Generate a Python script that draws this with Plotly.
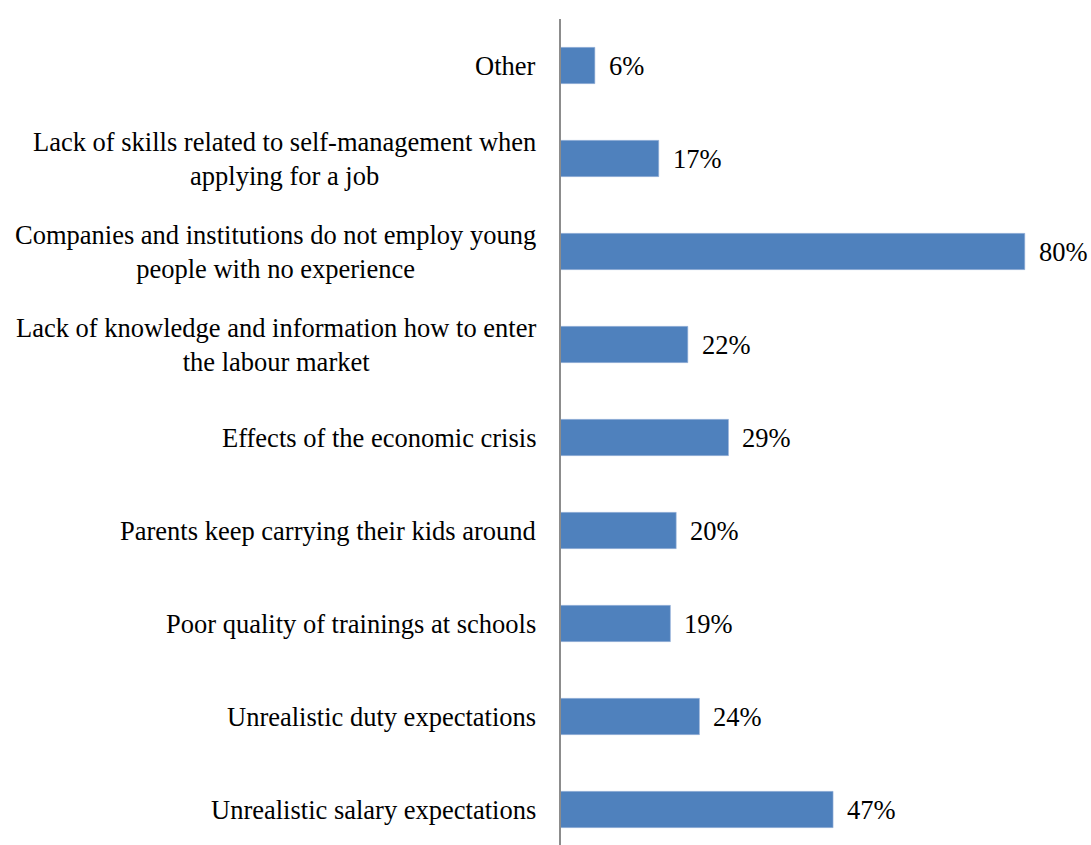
import plotly.graph_objects as go

categories = [
    "Unrealistic salary expectations",
    "Unrealistic duty expectations",
    "Poor quality of trainings at schools",
    "Parents keep carrying their kids around",
    "Effects of the economic crisis",
    "Lack of knowledge and information how to enter<br>the labour market",
    "Companies and institutions do not employ young<br>people with no experience",
    "Lack of skills related to self-management when<br>applying for a job",
    "Other",
]
values = [47, 24, 19, 20, 29, 22, 80, 17, 6]
value_labels = ["47%", "24%", "19%", "20%", "29%", "22%", "80%", "17%", "6%"]

FONT = "Liberation Serif, Times New Roman, serif"
FS = 26.5
ypos = list(range(len(categories)))

fig = go.Figure(
    go.Bar(
        x=values,
        y=ypos,
        orientation="h",
        width=0.39,
        marker=dict(color="#4F81BD", line=dict(color="#9DB7DC", width=0.6)),
        hoverinfo="skip",
    )
)

annotations = []
for yi, cat in zip(ypos, categories):
    annotations.append(dict(
        x=0, xref="paper", y=yi, yref="y", text=cat, showarrow=False,
        xanchor="right", yanchor="middle", align="center", xshift=-22,
        font=dict(family=FONT, size=FS, color="#000000"),
    ))
for yi, v, lab in zip(ypos, values, value_labels):
    annotations.append(dict(
        x=v, xref="x", y=yi, yref="y", text=lab, showarrow=False,
        xanchor="left", yanchor="middle", xshift=12,
        font=dict(family=FONT, size=FS, color="#000000"),
    ))

plot_h = 845 - 19
span = plot_h / 93.0

fig.update_layout(
    width=1091, height=845,
    margin=dict(l=560, r=0, t=19, b=0),
    paper_bgcolor="white", plot_bgcolor="white",
    showlegend=False,
    xaxis=dict(range=[0, 531 / 5.81], visible=False, fixedrange=True),
    yaxis=dict(
        range=[8.5 - span, 8.5], showticklabels=False, showgrid=False,
        zeroline=False, ticks="", showline=False, fixedrange=True,
    ),
    shapes=[dict(type="line", xref="paper", yref="paper", x0=0, x1=0, y0=0, y1=1,
                 line=dict(color="#8C8C8C", width=2))],
    annotations=annotations,
)

fig.write_html("out.html")
